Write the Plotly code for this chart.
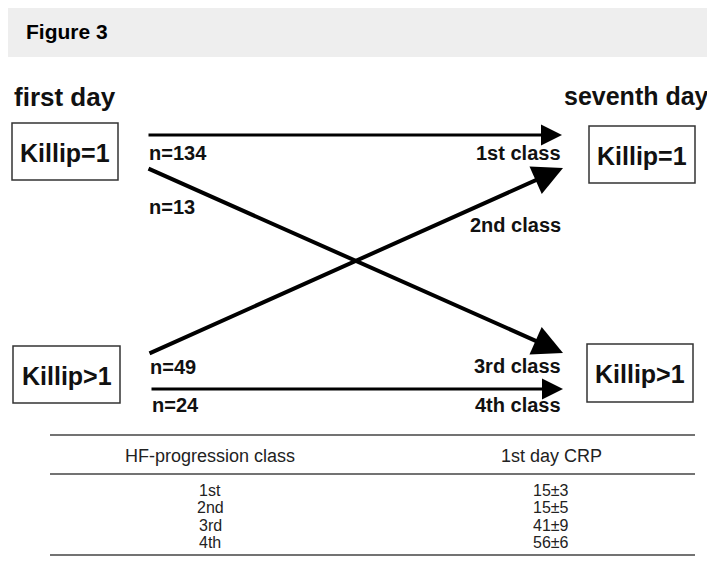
import plotly.graph_objects as go

# ---- data ----
states = ["Killip=1", "Killip>1"]
day_titles = ["first day", "seventh day"]
classes = ["1st", "2nd", "3rd", "4th"]
class_labels = ["1st class", "2nd class", "3rd class", "4th class"]
from_state = [0, 1, 0, 1]          # first-day state for each class
to_state = [0, 0, 1, 1]            # seventh-day state for each class
n_counts = [134, 49, 13, 24]
crp_values = ["15±3", "15±5", "41±9", "56±6"]
table_header = ["HF-progression class", "1st day CRP"]
figure_title = "Figure 3"

# page body has an 8px margin: draw in page-pixel coordinates
OFF = 8
W, H = 715, 579
BOLD = "Liberation Sans"
TXT = "#111"
fig = go.Figure()

# header band
fig.add_shape(type="rect", x0=7, x1=716, y0=1, y1=57, fillcolor="#eeeeee", line_width=0, layer="below")
fig.add_annotation(x=24, y=31, text=f"<b>{figure_title}</b>", showarrow=False, xanchor="left",
                   yanchor="middle", font=dict(family=BOLD, size=21, color="#000"))

# day titles
fig.add_annotation(x=12, y=97, text=f"<b>{day_titles[0]}</b>", showarrow=False, xanchor="left",
                   yanchor="middle", font=dict(family=BOLD, size=26, color=TXT))
fig.add_annotation(x=562, y=96, text=f"<b>{day_titles[1]}</b>", showarrow=False, xanchor="left",
                   yanchor="middle", font=dict(family=BOLD, size=25, color=TXT))

# boxes
left_boxes = [(12, 118, 123, 180), (13, 120, 346, 403)]
right_boxes = [(589, 695, 126, 183), (587, 693, 344, 402)]
for boxes in (left_boxes, right_boxes):
    for i, (x0, x1, y0, y1) in enumerate(boxes):
        fig.add_shape(type="rect", x0=x0, x1=x1, y0=y0, y1=y1, line=dict(color="#333", width=1.5))
        fig.add_annotation(x=(x0 + x1) / 2, y=(y0 + y1) / 2 + 1, text=f"<b>{states[i]}</b>",
                           showarrow=False, xanchor="center", yanchor="middle",
                           font=dict(family=BOLD, size=25, color=TXT))

# arrows: start/end anchor points by (from_state, to_state)
start_pts = {(0, 0): (147, 135), (1, 0): (148, 354), (0, 1): (147, 168), (1, 1): (150, 389)}
end_pts = {(0, 0): (562, 135), (1, 0): (563, 168), (0, 1): (563, 353), (1, 1): (563, 389)}
n_label_pos = {(0, 0): 153, (0, 1): 207, (1, 0): 367, (1, 1): 405}
class_label_pos = {(0, 0): 153, (1, 0): 225, (0, 1): 366, (1, 1): 405}

for k in range(len(classes)):
    key = (from_state[k], to_state[k])
    tx, ty = start_pts[key]
    hx, hy = end_pts[key]
    diag = from_state[k] != to_state[k]
    fig.add_annotation(x=hx, y=hy, ax=tx, ay=ty, xref="x", yref="y", axref="x", ayref="y",
                       text="", showarrow=True, arrowhead=2, arrowsize=1.5 if diag else 1.4,
                       arrowwidth=4 if diag else 3, arrowcolor="#000", standoff=0, startstandoff=0)
    fig.add_annotation(x=tx, y=n_label_pos[key], text=f"<b>n={n_counts[k]}</b>", showarrow=False,
                       xanchor="left", yanchor="middle", font=dict(family=BOLD, size=20, color=TXT))
    fig.add_annotation(x=563, y=class_label_pos[key], text=f"<b>{class_labels[k]}</b>", showarrow=False,
                       xanchor="right", yanchor="middle", font=dict(family=BOLD, size=20, color=TXT))

# table
col_x = [210, 551]
for y in (435, 474, 555):
    fig.add_shape(type="line", x0=50, x1=695, y0=y, y1=y, line=dict(color="#444", width=1.5))
for j, h in enumerate(table_header):
    fig.add_annotation(x=col_x[j], y=456, text=h, showarrow=False, xanchor="center", yanchor="middle",
                       font=dict(family="Liberation Sans", size=18, color="#222"))
row_y = [490, 507.5, 525, 542]
for i in range(len(classes)):
    fig.add_annotation(x=col_x[0], y=row_y[i], text=classes[i], showarrow=False, xanchor="center",
                       yanchor="middle", font=dict(family="Liberation Sans", size=16, color="#222"))
    fig.add_annotation(x=col_x[1], y=row_y[i], text=crp_values[i], showarrow=False, xanchor="center",
                       yanchor="middle", font=dict(family="Liberation Sans", size=16, color="#222"))

fig.update_xaxes(range=[OFF, W], visible=False, fixedrange=True)
fig.update_yaxes(range=[H, OFF], visible=False, fixedrange=True)
fig.update_layout(width=W - OFF, height=H - OFF, margin=dict(l=0, r=0, t=0, b=0),
                  plot_bgcolor="white", paper_bgcolor="white", showlegend=False)
fig.write_html("out.html")
